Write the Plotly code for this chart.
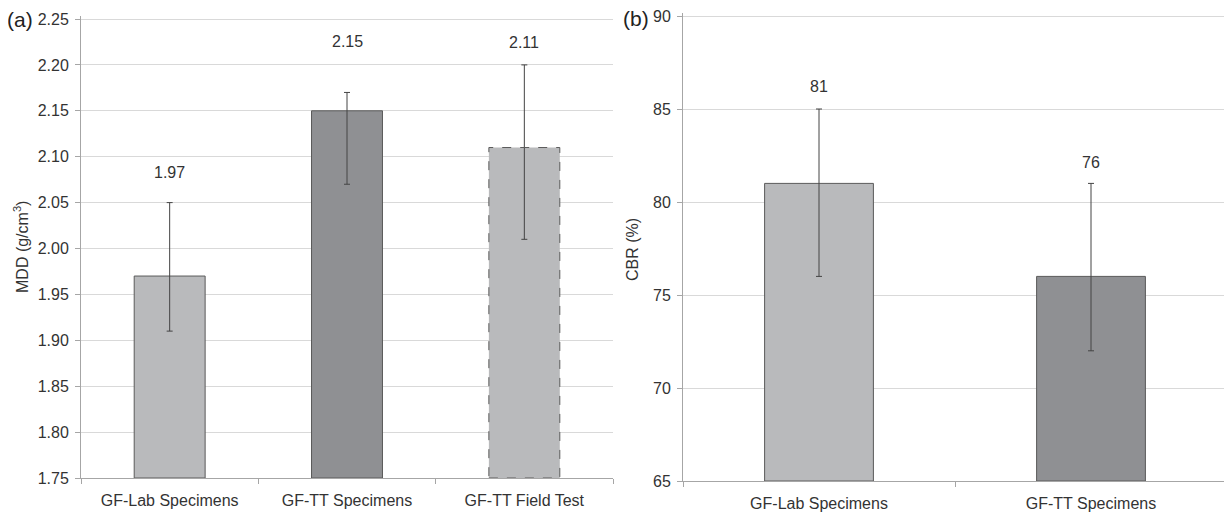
import plotly.graph_objects as go

# ---- data ----
mdd_categories = ["GF-Lab Specimens", "GF-TT Specimens", "GF-TT Field Test"]
mdd_values = [1.97, 2.15, 2.11]
mdd_err_plus = [0.08, 0.02, 0.09]
mdd_err_minus = [0.06, 0.08, 0.10]
mdd_labels = ["1.97", "2.15", "2.11"]

cbr_categories = ["GF-Lab Specimens", "GF-TT Specimens"]
cbr_values = [81, 76]
cbr_err_plus = [4, 5]
cbr_err_minus = [5, 4]
cbr_labels = ["81", "76"]

mdd_ticks = [1.75, 1.80, 1.85, 1.90, 1.95, 2.00, 2.05, 2.10, 2.15, 2.20, 2.25]
cbr_ticks = [65, 70, 75, 80, 85, 90]

# ---- label placement (data units, as moved in the original) ----
mdd_label_y = [2.083, 2.225, 2.224]
cbr_label_y = [86.2, 82.15]

# ---- page geometry (the page body has an 8px margin) ----
OFF = 8
W, H = 1232 - OFF, 512 - OFF


def px(x):
    return (x - OFF) / W


def py(y):
    return 1 - (y - OFF) / H


# ---- styles ----
LIGHT = "#b9babc"
DARK = "#8f9093"
OUTLINE = "#5a5a5a"
ERR = "#444444"
GRID = "#d9d9d9"
AXIS = "#a6a6a6"
TXT = "#333333"
FONT = "Liberation Sans, Arial, sans-serif"
BAR_W = 0.4
FS = 16
PAD = 3  # px of head-room so the top gridline is drawn


def yaxis_geom(ticks, top_px, bottom_px):
    lo, hi = ticks[0], ticks[-1]
    ppu = (bottom_px - top_px) / (hi - lo)
    return dict(range=[lo, hi + PAD / ppu], domain=[py(bottom_px), py(top_px - PAD)])


fig = go.Figure()

# MDD panel
mdd_colors = [LIGHT, DARK, LIGHT]
mdd_line_w = [1, 1, 0]
fig.add_trace(go.Bar(
    x=mdd_categories, y=[v - mdd_ticks[0] for v in mdd_values], base=mdd_ticks[0],
    width=BAR_W, marker=dict(color=mdd_colors, line=dict(color=OUTLINE, width=mdd_line_w)),
    error_y=dict(type="data", symmetric=False, array=mdd_err_plus, arrayminus=mdd_err_minus,
                 color=ERR, thickness=1, width=3),
    xaxis="x", yaxis="y", showlegend=False, hoverinfo="skip"))

# dashed outline for the field-test bar (built from its data value)
i3 = 2
fig.add_shape(type="rect", xref="x", yref="y",
              x0=i3 - BAR_W / 2, x1=i3 + BAR_W / 2, y0=mdd_ticks[0], y1=mdd_values[i3],
              line=dict(color=OUTLINE, width=1, dash="dash"), layer="above")

# CBR panel
fig.add_trace(go.Bar(
    x=cbr_categories, y=[v - cbr_ticks[0] for v in cbr_values], base=cbr_ticks[0],
    width=BAR_W, marker=dict(color=[LIGHT, DARK], line=dict(color=OUTLINE, width=1)),
    error_y=dict(type="data", symmetric=False, array=cbr_err_plus, arrayminus=cbr_err_minus,
                 color=ERR, thickness=1, width=3),
    xaxis="x2", yaxis="y2", showlegend=False, hoverinfo="skip"))

annotations = []
for c, ly, t in zip(mdd_categories, mdd_label_y, mdd_labels):
    annotations.append(dict(x=c, y=ly, xref="x", yref="y", text=t, showarrow=False,
                            font=dict(size=FS, color=TXT, family=FONT)))
for c, ly, t in zip(cbr_categories, cbr_label_y, cbr_labels):
    annotations.append(dict(x=c, y=ly, xref="x2", yref="y2", text=t, showarrow=False,
                            font=dict(size=FS, color=TXT, family=FONT)))
annotations.append(dict(x=px(20), y=py(19), xref="paper", yref="paper", text="(a)",
                        xanchor="center", yanchor="middle",
                        showarrow=False, font=dict(size=21, color="#222", family=FONT)))
annotations.append(dict(x=px(636), y=py(18), xref="paper", yref="paper", text="(b)",
                        xanchor="center", yanchor="middle",
                        showarrow=False, font=dict(size=21, color="#222", family=FONT)))
annotations.append(dict(x=px(21), y=py(247), xref="paper", yref="paper",
                        text="MDD (g/cm<sup>3</sup>)", textangle=-90, showarrow=False,
                        xanchor="center", yanchor="middle",
                        font=dict(size=FS, color=TXT, family=FONT)))
annotations.append(dict(x=px(632), y=py(250), xref="paper", yref="paper",
                        text="CBR (%)", textangle=-90, showarrow=False,
                        xanchor="center", yanchor="middle",
                        font=dict(size=FS, color=TXT, family=FONT)))

common_x = dict(type="category", showgrid=False, showline=True, linecolor=AXIS, linewidth=1,
                ticks="outside", tickson="boundaries", ticklen=5, tickcolor=AXIS,
                ticklabelstandoff=8,
                tickfont=dict(size=FS, color=TXT, family=FONT), automargin=False, fixedrange=True)
common_y = dict(showgrid=True, gridcolor=GRID, gridwidth=1, showline=True, linecolor=AXIS,
                linewidth=1, ticks="outside", ticklen=5, tickcolor=AXIS, zeroline=False,
                ticklabelstandoff=3, ticklabeloverflow="allow",
                tickfont=dict(size=FS, color=TXT, family=FONT), automargin=False)

fig.update_layout(
    width=W, height=H,
    margin=dict(l=0, r=0, t=0, b=0),
    paper_bgcolor="white", plot_bgcolor="white",
    bargap=0.6,
    xaxis=dict(common_x, domain=[px(81), px(613)], anchor="y",
               range=[-0.5, len(mdd_categories) - 0.5]),
    yaxis=dict(common_y, anchor="x", tickvals=mdd_ticks,
               ticktext=[f"{t:.2f}" for t in mdd_ticks],
               **yaxis_geom(mdd_ticks, 19, 478)),
    xaxis2=dict(common_x, domain=[px(683), px(1227)], anchor="y2",
                range=[-0.5, len(cbr_categories) - 0.5]),
    yaxis2=dict(common_y, anchor="x2", tickvals=cbr_ticks,
                ticktext=[str(t) for t in cbr_ticks],
                **yaxis_geom(cbr_ticks, 16, 481)),
    annotations=annotations,
    font=dict(family=FONT, color=TXT),
)

fig.write_html("out.html")
